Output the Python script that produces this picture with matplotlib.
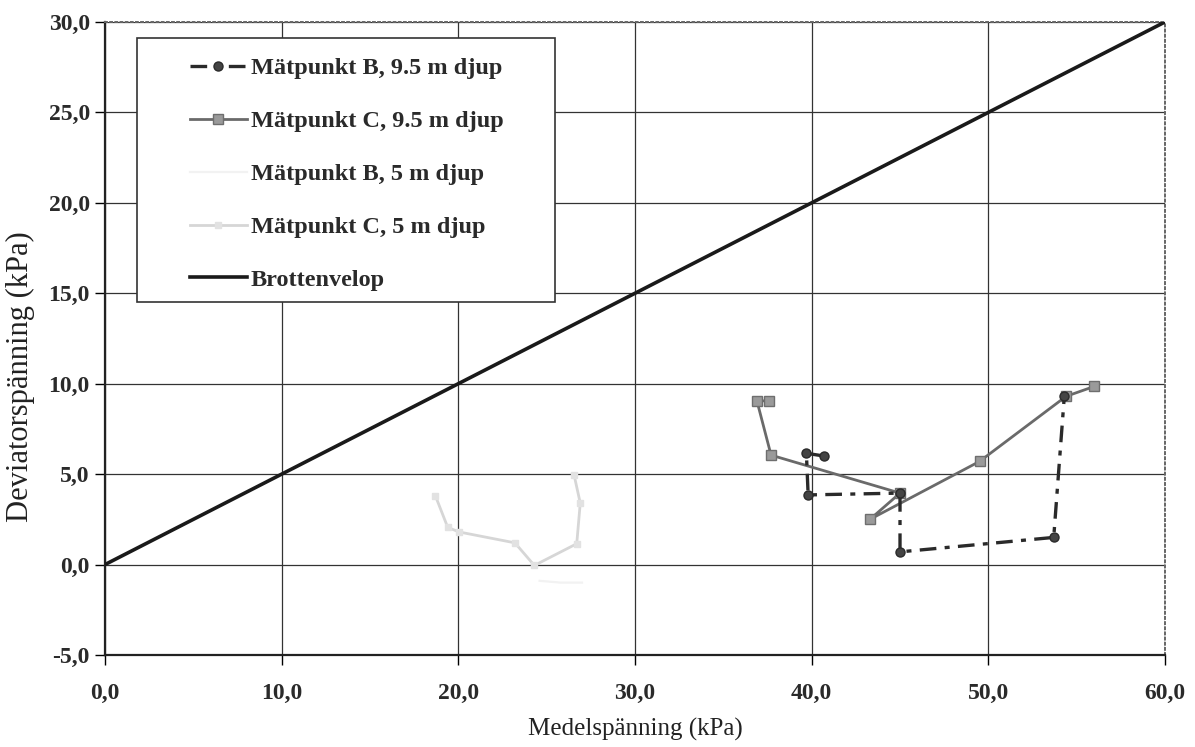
import numpy as np
import matplotlib.pyplot as plt
from matplotlib.patches import Rectangle

plt.rcParams['font.family'] = ['Liberation Serif', 'DejaVu Serif']

# Stress paths, mean stress p (kPa) vs deviator stress q (kPa)
p_b95 = [40.7, 39.7, 39.8, 45.0, 45.0, 53.7, 54.3]
q_b95 = [6.0, 6.15, 3.85, 3.95, 0.7, 1.5, 9.3]

p_c95 = [37.6, 36.9, 37.7, 45.0, 43.3, 49.5, 54.4, 56.0]
q_c95 = [9.05, 9.05, 6.05, 3.95, 2.5, 5.7, 9.3, 9.85]

p_b5 = [24.6, 25.8, 27.0]
q_b5 = [-0.9, -1.0, -1.0]

p_c5 = [18.7, 19.4, 20.05, 23.2, 24.3, 26.7, 26.9, 26.55]
q_c5 = [3.8, 2.05, 1.8, 1.2, -0.05, 1.15, 3.4, 4.95]

# failure envelope
p_env = [0.0, 60.0]
q_env = [0.0, 30.0]

xticks = np.arange(0, 61, 10)
yticks = np.arange(-5, 31, 5)

fig = plt.figure(figsize=(11.95, 7.47), dpi=100)
ax = fig.add_axes([0.0879, 0.1232, 0.887, 0.8474])

ax.plot(p_b95, q_b95, color='#2a2a2a', lw=2.4, ls=(0, (5, 2.5, 1.5, 2.5)),
        marker='o', ms=6.5, mfc='#444444', mec='#2a2a2a',
        label='Mätpunkt B, 9.5 m djup', zorder=4)
ax.plot(p_c95, q_c95, color='#6a6a6a', lw=2.0,
        marker='s', ms=6.5, mfc='#9a9a9a', mec='#6e6e6e',
        label='Mätpunkt C, 9.5 m djup', zorder=3)
ax.plot(p_b5, q_b5, color='#f2f2f2', lw=1.6,
        label='Mätpunkt B, 5 m djup', zorder=2)
ax.plot(p_c5, q_c5, color='#d6d6d6', lw=2.0,
        marker='s', ms=4, mfc='#e2e2e2', mec='#e2e2e2',
        label='Mätpunkt C, 5 m djup', zorder=2)
ax.plot(p_env, q_env, color='#1a1a1a', lw=2.6, label='Brottenvelop', zorder=3)

ax.set_xlim(0, 60)
ax.set_ylim(-5, 30)
ax.set_xticks(xticks)
ax.set_yticks(yticks)
ax.set_xticklabels([f'{v:.1f}'.replace('.', ',') for v in xticks])
ax.set_yticklabels([f'{v:.1f}'.replace('.', ',') for v in yticks])
ax.tick_params(axis='both', direction='out', length=7, width=1, labelsize=17)
ax.tick_params(axis='x', pad=13)
ax.tick_params(axis='y', pad=4)
for lab in ax.get_xticklabels() + ax.get_yticklabels():
    lab.set_fontweight('bold')
    lab.set_color('#2a2a2a')

ax.grid(True, color='#333333', lw=0.9)
ax.set_axisbelow(True)
for side in ['left', 'bottom']:
    ax.spines[side].set_linewidth(1.6)
    ax.spines[side].set_color('#222222')
for side in ['top', 'right']:
    ax.spines[side].set_linewidth(1.4)
    ax.spines[side].set_linestyle(':')
    ax.spines[side].set_color('#666666')

ax.set_xlabel('Medelspänning (kPa)', fontsize=18, color='#222222',
              labelpad=10)
ax.set_ylabel('Deviatorspänning (kPa)', fontsize=22, color='#222222')
ax.yaxis.set_label_coords(-0.066, 0.44)

# legend box drawn separately so the wide left margin can be kept
ax.add_patch(Rectangle((0.030, 0.5577), 0.3945, 0.417, transform=ax.transAxes,
                       facecolor='white', edgecolor='#333333', lw=1.2,
                       zorder=5))
leg = ax.legend(loc='upper left', bbox_to_anchor=(0.080, 0.944),
                prop={'size': 17.5, 'weight': 'bold'}, frameon=False,
                borderpad=0, labelspacing=1.27, handlelength=2.35,
                handletextpad=0.15, borderaxespad=0)
leg.set_zorder(6)
for txt in leg.get_texts():
    txt.set_color('#2a2a2a')

fig.savefig('out.png', dpi=100)
